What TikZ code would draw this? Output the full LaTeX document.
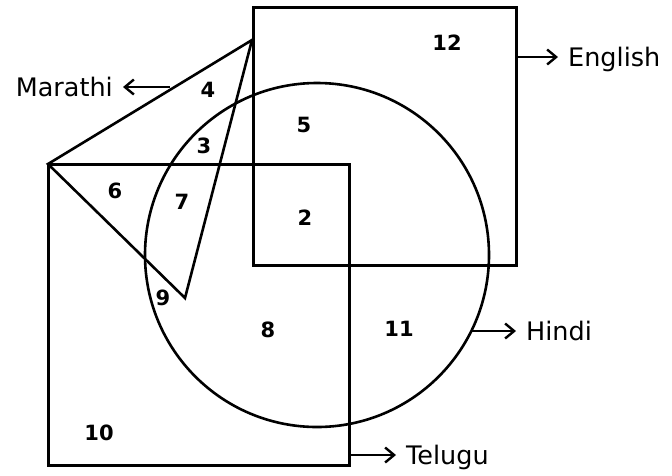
\documentclass[tikz,border=0pt]{standalone}
\usepackage{fontspec}
\setmainfont{DejaVu Sans}
\usetikzlibrary{arrows.meta}

\begin{document}
\begin{tikzpicture}[
    x=1pt, y=-1pt,
    setline/.style={line width=3pt},
    thinline/.style={line width=2.6pt},
    region/.style={font=\fontsize{21}{25}\selectfont\bfseries, inner sep=0pt},
    lang/.style={font=\fontsize{25.5}{30}\selectfont, text height=18.5pt, text depth=0pt, inner ysep=0pt, inner xsep=10pt},
    tag/.style={-{Straight Barb[length=9pt,width=15pt]}, line width=2.4pt}
]
\useasboundingbox (0,0) rectangle (672,475);

% ======================
% Sets
% ======================
\draw[setline] (253,7) rectangle (516,265);     % English
\draw[setline] (48,164) rectangle (349,465);    % Telugu
\draw[thinline, line join=miter] (48,164) -- (252,40) -- (185,298) -- cycle; % Marathi
\draw[thinline] (317,255) circle [radius=172];  % Hindi

% ======================
% Region numbers
% ======================
\node[region] (r12) at (447, 43) {12};
\node[region] (r4)  at (208, 90) {4};
\node[region] (r5)  at (304,125) {5};
\node[region] (r3)  at (204,146) {3};
\node[region] (r6)  at (115,191) {6};
\node[region] (r7)  at (182,202) {7};
\node[region] (r2)  at (305,218) {2};
\node[region] (r9)  at (163,298) {9};
\node[region] (r8)  at (268,330) {8};
\node[region] (r11) at (399,329) {11};
\node[region] (r10) at ( 99,433) {10};

% ======================
% Set labels
% ======================
\node[lang, anchor=east] (marathi) at (123, 87) {Marathi};
\node[lang, anchor=west] (english) at (558, 57) {English};
\node[lang, anchor=west] (hindi)   at (516,331) {Hindi};
\node[lang, anchor=west] (telugu)  at (396,455) {Telugu};

\coordinate (mA) at (170, 87);
\coordinate (eA) at (516, 57);
\coordinate (hA) at (471,331);
\coordinate (tA) at (349,455);

\draw[tag] (mA) -- (marathi);
\draw[tag] (eA) -- (english);
\draw[tag] (hA) -- (hindi);
\draw[tag] (tA) -- (telugu);

\end{tikzpicture}
\end{document}
